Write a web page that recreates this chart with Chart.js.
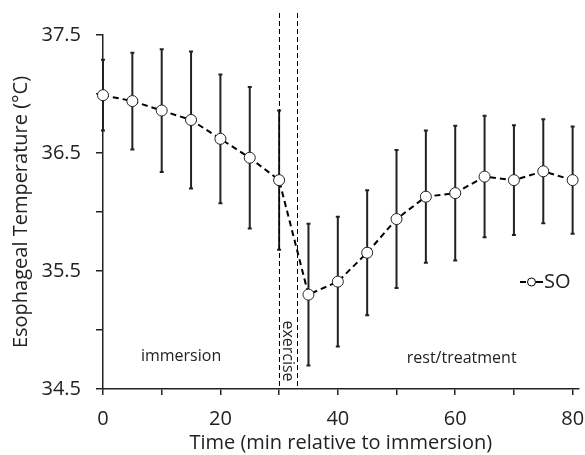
<!DOCTYPE html>
<html><head><meta charset="utf-8">
<script src="https://cdn.jsdelivr.net/npm/chart.js@4/dist/chart.umd.min.js"></script>
<style>html,body{margin:0;padding:0;background:#fff}#wrap{width:585px;height:455px}</style>
</head><body><div id="wrap"><canvas id="c" width="585" height="455"></canvas></div>
<script>
// ---- data ----
const times = [0,5,10,15,20,25,30,35,40,45,50,55,60,65,70,75,80];
const temps = [36.99,36.94,36.86,36.78,36.62,36.46,36.27,35.30,35.41,35.655,35.94,36.13,36.16,36.30,36.27,36.345,36.27];
const errs  = [0.30,0.41,0.52,0.58,0.545,0.60,0.59,0.60,0.55,0.53,0.585,0.56,0.57,0.515,0.465,0.44,0.455];
const seriesName = 'SO';
const xTickValues = [0,10,20,30,40,50,60,70,80];
const xTickLabels = ['0','','20','','40','','60','','80'];
const yTickValues = [34.5,35,35.5,36,36.5,37,37.5];
const yTickLabels = ['34.5','','35.5','','36.5','','37.5'];
const phaseBounds = [30,33];
const phaseNames = ['immersion','exercise','rest/treatment'];
const phaseNameX = [13.3,31.5,61.1];

const FONT = '"Open Sans", Lato, sans-serif';

const errorBars = {
  id:'errorBars',
  beforeDatasetsDraw(chart){
    const {ctx, scales:{x,y}} = chart;
    ctx.save();
    ctx.strokeStyle='#222'; ctx.lineWidth=2;
    times.forEach((t,i)=>{
      const px=x.getPixelForValue(t);
      const top=y.getPixelForValue(temps[i]+errs[i]);
      const bot=y.getPixelForValue(temps[i]-errs[i]);
      ctx.beginPath();
      ctx.moveTo(px,top); ctx.lineTo(px,bot);
      ctx.moveTo(px-2,top); ctx.lineTo(px+2,top);
      ctx.moveTo(px-2,bot); ctx.lineTo(px+2,bot);
      ctx.stroke();
    });
    // phase boundaries
    ctx.strokeStyle='#000'; ctx.lineWidth=1; ctx.setLineDash([5,3]);
    const area=chart.chartArea;
    phaseBounds.forEach(b=>{
      const px=Math.round(x.getPixelForValue(b))+0.5;
      ctx.beginPath(); ctx.moveTo(px,area.top-22); ctx.lineTo(px,area.bottom); ctx.stroke();
    });
    ctx.setLineDash([]);
    // phase labels
    ctx.fillStyle='#222'; ctx.font='16px '+FONT; ctx.textAlign='center'; ctx.textBaseline='middle';
    const ly=y.getPixelForValue(34.5)-33;
    ctx.fillText(phaseNames[0], x.getPixelForValue(phaseNameX[0]), ly);
    ctx.fillText(phaseNames[2], x.getPixelForValue(phaseNameX[2]), ly+2);
    ctx.save();
    ctx.translate(x.getPixelForValue(phaseNameX[1]), ly-5);
    ctx.rotate(Math.PI/2);
    ctx.fillText(phaseNames[1],0,0);
    ctx.restore();
    ctx.restore();
  },
  afterDatasetsDraw(chart){
    const {ctx} = chart;
    // legend
    ctx.save();
    const cy=282, lx=520;
    ctx.strokeStyle='#000'; ctx.lineWidth=2;
    ctx.beginPath(); ctx.moveTo(lx,cy); ctx.lineTo(lx+6,cy); ctx.moveTo(lx+16,cy); ctx.lineTo(lx+23,cy); ctx.stroke();
    ctx.lineWidth=1; ctx.fillStyle='#fff';
    ctx.beginPath(); ctx.arc(lx+11.5,cy,4,0,Math.PI*2); ctx.fill(); ctx.stroke();
    ctx.fillStyle='#222'; ctx.font='20px '+FONT; ctx.textAlign='left'; ctx.textBaseline='middle';
    ctx.fillText(seriesName, lx+24, cy);
    ctx.restore();
  }
};

new Chart(document.getElementById('c'), {
  type:'line',
  data:{datasets:[{
    label:seriesName,
    data: times.map((t,i)=>({x:t,y:temps[i]})),
    borderColor:'#000', borderWidth:2, borderDash:[6,4],
    pointRadius:5.5, pointBackgroundColor:'#fff', pointBorderColor:'#222', pointBorderWidth:1,
    tension:0, fill:false, clip:false
  }]},
  options:{
    responsive:false, animation:false,
    layout:{padding:{top:35,right:6,left:0,bottom:0}},
    plugins:{legend:{display:false}, tooltip:{enabled:false}},
    scales:{
      x:{type:'linear', min:0, max:81,
        afterBuildTicks(s){ s.ticks = xTickValues.map(v=>({value:v})); },
        afterFit(s){ s.height=66; s.paddingRight=0; s.paddingLeft=0; },
        ticks:{ autoSkip:false, maxRotation:0, padding:12, color:'#222', font:{family:FONT,size:20},
          callback:(v)=>{const i=xTickValues.indexOf(v); return i>=0?xTickLabels[i]:'';} },
        grid:{drawOnChartArea:false, drawTicks:true, tickLength:6, color:'#222', lineWidth:1.5},
        border:{display:true, color:'#222', width:1.5},
        title:{display:true, text:'Time (min relative to immersion)', color:'#222', font:{family:FONT,size:20}, padding:{top:0,bottom:0}}
      },
      y:{type:'linear', min:34.5, max:37.5,
        afterBuildTicks(s){ s.ticks = yTickValues.map(v=>({value:v})); },
        afterFit(s){ s.width=103; },
        ticks:{ autoSkip:false, padding:15, color:'#222', font:{family:FONT,size:20},
          callback:(v)=>{const i=yTickValues.indexOf(v); return i>=0?yTickLabels[i]:'';} },
        grid:{drawOnChartArea:false, drawTicks:true, tickLength:7, color:'#222', lineWidth:1.5},
        border:{display:true, color:'#222', width:1.5},
        title:{display:true, text:'Esophageal Temperature (°C)', color:'#222', font:{family:FONT,size:20}, padding:{top:9,bottom:0}}
      }
    }
  },
  plugins:[errorBars]
});
</script></body></html>
